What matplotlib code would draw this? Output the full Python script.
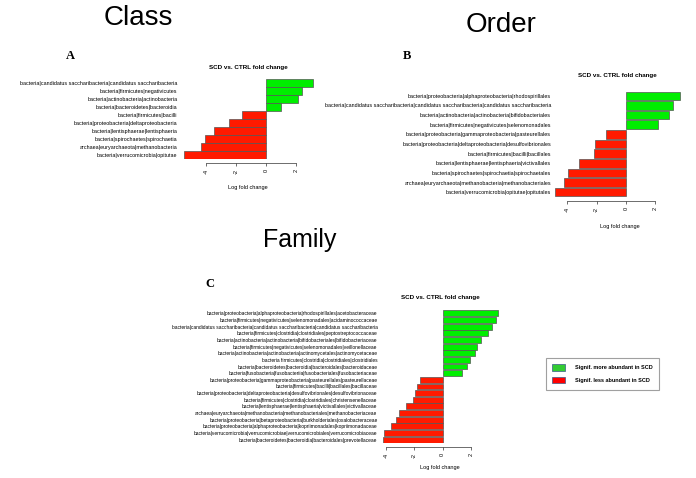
import matplotlib
matplotlib.use("Agg")
import matplotlib.pyplot as plt
from matplotlib.patches import Patch

plt.rcParams['font.family'] = ['Liberation Sans', 'DejaVu Sans']
plt.rcParams['axes.unicode_minus'] = False

W, H = 696, 478

class_labels = [
    "bacteria|candidatus saccharibacteria|candidatus saccharibacteria",
    "bacteria|firmicutes|negativicutes",
    "bacteria|actinobacteria|actinobacteria",
    "bacteria|bacteroidetes|bacteroidia",
    "bacteria|firmicutes|bacilli",
    "bacteria|proteobacteria|deltaproteobacteria",
    "bacteria|lentisphaerae|lentisphaeria",
    "bacteria|spirochaetes|spirochaetia",
    "archaea|euryarchaeota|methanobacteria",
    "bacteria|verrucomicrobia|opitutae",
]
class_values = [3.1, 2.4, 2.1, 1.0, -1.6, -2.5, -3.45, -4.05, -4.35, -5.45]

order_labels = [
    "bacteria|proteobacteria|alphaproteobacteria|rhodospirillales",
    "bacteria|candidatus saccharibacteria|candidatus saccharibacteria|candidatus saccharibacteria",
    "bacteria|actinobacteria|actinobacteria|bifidobacteriales",
    "bacteria|firmicutes|negativicutes|selenomonadales",
    "bacteria|proteobacteria|gammaproteobacteria|pasteurellales",
    "bacteria|proteobacteria|deltaproteobacteria|desulfovibrionales",
    "bacteria|firmicutes|bacilli|bacillales",
    "bacteria|lentisphaerae|lentisphaeria|victivallales",
    "bacteria|spirochaetes|spirochaetia|spirochaetales",
    "archaea|euryarchaeota|methanobacteria|methanobacteriales",
    "bacteria|verrucomicrobia|opitutae|opitutales",
]
order_values = [3.7, 3.2, 2.9, 2.2, -1.36, -2.1, -2.2, -3.2, -3.95, -4.2, -4.8]

family_labels = [
    "bacteria|proteobacteria|alphaproteobacteria|rhodospirillales|acetobacteraceae",
    "bacteria|firmicutes|negativicutes|selenomonadales|acidaminococcaceae",
    "bacteria|candidatus saccharibacteria|candidatus saccharibacteria|candidatus saccharibacteria",
    "bacteria|firmicutes|clostridia|clostridiales|peptostreptococcaceae",
    "bacteria|actinobacteria|actinobacteria|bifidobacteriales|bifidobacteriaceae",
    "bacteria|firmicutes|negativicutes|selenomonadales|veillonellaceae",
    "bacteria|actinobacteria|actinobacteria|actinomycetales|actinomycetaceae",
    "bacteria firmicutes|clostridia|clostridiales|clostridiales",
    "bacteria|bacteroidetes|bacteroidia|bacteroidales|bacteroidaceae",
    "bacteria|fusobacteria|fusobacteriia|fusobacteriales|fusobacteriaceae",
    "bacteria|proteobacteria|gammaproteobacteria|pasteurellales|pasteurellaceae",
    "bacteria|firmicutes|bacilli|bacillales|bacillaceae",
    "bacteria|proteobacteria|deltaproteobacteria|desulfovibrionales|desulfovibrionaceae",
    "bacteria|firmicutes|clostridia|clostridiales|christensenellaceae",
    "bacteria|lentisphaerae|lentisphaeria|victivallales|victivallaceae",
    "archaea|euryarchaeota|methanobacteria|methanobacteriales|methanobacteriaceae",
    "bacteria|proteobacteria|betaproteobacteria|burkholderiales|oxalobacteraceae",
    "bacteria|proteobacteria|alphaproteobacteria|kopriimonadales|kopriimonadaceae",
    "bacteria|verrucomicrobia|verrucomicrobiae|verrucomicrobiales|verrucomicrobiaceae",
    "bacteria|bacteroidetes|bacteroidia|bacteroidales|prevotellaceae",
]
family_values = [3.9, 3.75, 3.5, 3.2, 2.7, 2.45, 2.25, 1.95, 1.7, 1.35,
                 -1.6, -1.8, -1.95, -2.1, -2.6, -3.05, -3.3, -3.65, -4.15, -4.2]

ticks = [-4, -2, 0, 2]
up_color = '#00ee00'
down_color = '#ff1a00'


def box(l, t, r, b):
    return [l / W, 1 - b / H, (r - l) / W, (b - t) / H]


def ftext(x, y, s, **kw):
    fig.text(x / W, 1 - y / H, s, **kw)


def panel(rect, labels, values, xlim, fs):
    ax = fig.add_axes(rect)
    n = len(values)
    cols = [up_color if v > 0 else down_color for v in values]
    ax.barh(range(n), values, height=0.88, color=cols,
            edgecolor='#555555', linewidth=0.5)
    ax.set_ylim(n - 0.5, -0.5)
    ax.set_xlim(*xlim)
    ax.set_yticks(range(n))
    ax.set_yticklabels(labels, fontsize=fs)
    ax.tick_params(axis='y', length=0, pad=1)
    for s in ['top', 'right', 'left']:
        ax.spines[s].set_visible(False)
    ax.spines['bottom'].set_bounds(ticks[0], ticks[-1])
    ax.spines['bottom'].set_position(('outward', 3))
    ax.spines['bottom'].set_linewidth(0.5)
    ax.spines['bottom'].set_color('#333333')
    ax.set_xticks(ticks)
    ax.set_xticklabels([str(t) for t in ticks], rotation=90, fontsize=4)
    ax.tick_params(axis='x', length=2.5, width=0.5, pad=1.5, color='#333333')
    return ax


fig = plt.figure(figsize=(W / 100, H / 100), dpi=100)

# A: Class
panel(box(179, 79, 317, 159), class_labels, class_values, (-5.8, 3.4), 3.9)
ftext(248, 67, "SCD vs. CTRL fold change", fontsize=4.5, fontweight='bold', ha='center', va='center')
ftext(248, 187, "Log fold change", fontsize=4, ha='center', va='center')

# B: Order
panel(box(552.5, 91, 684.8, 197), order_labels, order_values, (-5.0, 4.0), 3.85)
ftext(617, 76, "SCD vs. CTRL fold change", fontsize=4.5, fontweight='bold', ha='center', va='center')
ftext(620, 226, "Log fold change", fontsize=4, ha='center', va='center')

# C: Family
panel(box(378.8, 310, 502.3, 443), family_labels, family_values, (-4.5, 4.2), 3.5)
ftext(440, 297, "SCD vs. CTRL fold change", fontsize=4.5, fontweight='bold', ha='center', va='center')
ftext(440, 468, "Log fold change", fontsize=4, ha='center', va='center')

# headers
ftext(138, 18, "Class", fontsize=20, ha='center', va='center')
ftext(501, 25, "Order", fontsize=20, ha='center', va='center')
ftext(300, 240, "Family", fontsize=18, ha='center', va='center')
ftext(70, 56, "A", fontsize=9, fontweight='bold', family='Liberation Serif', ha='center', va='center')
ftext(407, 56, "B", fontsize=9, fontweight='bold', family='Liberation Serif', ha='center', va='center')
ftext(210, 284, "C", fontsize=9, fontweight='bold', family='Liberation Serif', ha='center', va='center')

handles = [Patch(facecolor='#33cc33', edgecolor='#3a5a8a', linewidth=0.5, label="Signif. more abundant in SCD"),
           Patch(facecolor='#ff0000', edgecolor='#3a5a8a', linewidth=0.5, label="Signif. less abundant in SCD")]
leg = fig.legend(handles=handles, loc='upper left', bbox_to_anchor=(546 / W, 1 - 358 / H),
                 fontsize=4, frameon=True, fancybox=False, edgecolor='#888888',
                 handlelength=2.3, handleheight=1.45, labelspacing=1.1, borderpad=1.1,
                 handletextpad=1.9, borderaxespad=0)
leg.get_frame().set_linewidth(0.8)
for t in leg.get_texts():
    t.set_fontweight('bold')

fig.savefig("out.png", dpi=100)
